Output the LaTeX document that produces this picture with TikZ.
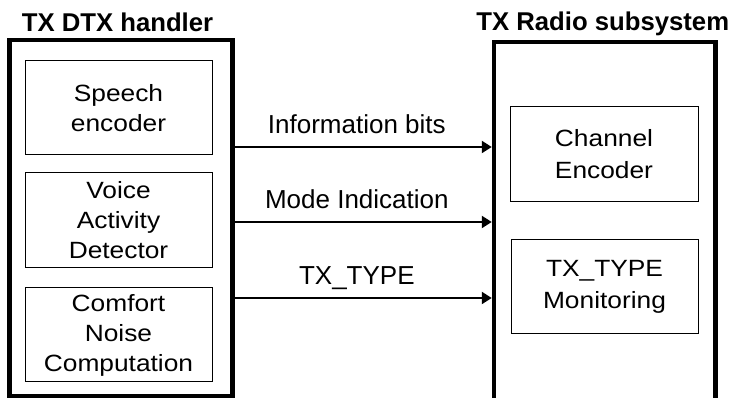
\documentclass[tikz,border=0pt]{standalone}
\usepackage{fontspec}
\setmainfont{Liberation Sans}
\newfontfamily\boxfont{Liberation Sans}[FakeStretch=1.12]
\usetikzlibrary{arrows.meta,positioning}
\tikzset{
subsystem/.style={draw, line width=4.5pt, inner sep=0pt},
block/.style={draw, line width=1pt, inner sep=0pt, minimum width=187pt, minimum height=94pt,
    align=center, font=\fontsize{23.5}{30}\boxfont},
title/.style={font=\fontsize{25.7}{30}\selectfont\bfseries, anchor=base},
sig/.style={-{Triangle[length=10pt,width=12pt]}, line width=2.2pt},
siglabel/.style={pos=.475, anchor=base, yshift=13pt, font=\fontsize{26}{30}\selectfont},
}

\begin{document}
\begin{tikzpicture}[x=1pt, y=1pt]
    \useasboundingbox (0,0) rectangle (736,398);
    \clip (0,0) rectangle (736,398);

    % DTX handler side
    \node[subsystem, minimum width=223pt, minimum height=356pt] (dtx) at (121,180) {};
    \node[title] (dtxtitle) at ([xshift=-3.5pt, yshift=5.75pt]dtx.north) {TX DTX handler};
    \node[block] (speech) at (118.5,290) {Speech\\encoder};
    \node[block, minimum height=95pt] (vad) at (118.5,177.5) {Voice\\Activity\\Detector};
    \node[block] (cng) at (118.5,63) {Comfort\\Noise\\Computation};

    % radio side, open at the bottom
    \node[subsystem, minimum width=221.5pt, minimum height=376pt] (radio) at (604.75,168) {};
    \node[title] (radiotitle) at ([xshift=-2pt, yshift=8.75pt]radio.north) {TX Radio subsystem};
    \node[block, minimum width=188pt, minimum height=95pt, font=\fontsize{23.5}{32}\boxfont] (chenc) at (604,243.5) {Channel\\Encoder};
    \node[block, font=\fontsize{23.5}{32}\boxfont] (monitor) at (604.5,111) {TX\_TYPE\\Monitoring};

    \draw[sig] (dtx.east |- 0,251) -- node[siglabel] {Information bits} (radio.west |- 0,251);
    \draw[sig] (dtx.east |- 0,176) -- node[siglabel] {Mode Indication} (radio.west |- 0,176);
    \draw[sig] (dtx.east |- 0,100) -- node[siglabel] {TX\_TYPE} (radio.west |- 0,100);
\end{tikzpicture}
\end{document}
